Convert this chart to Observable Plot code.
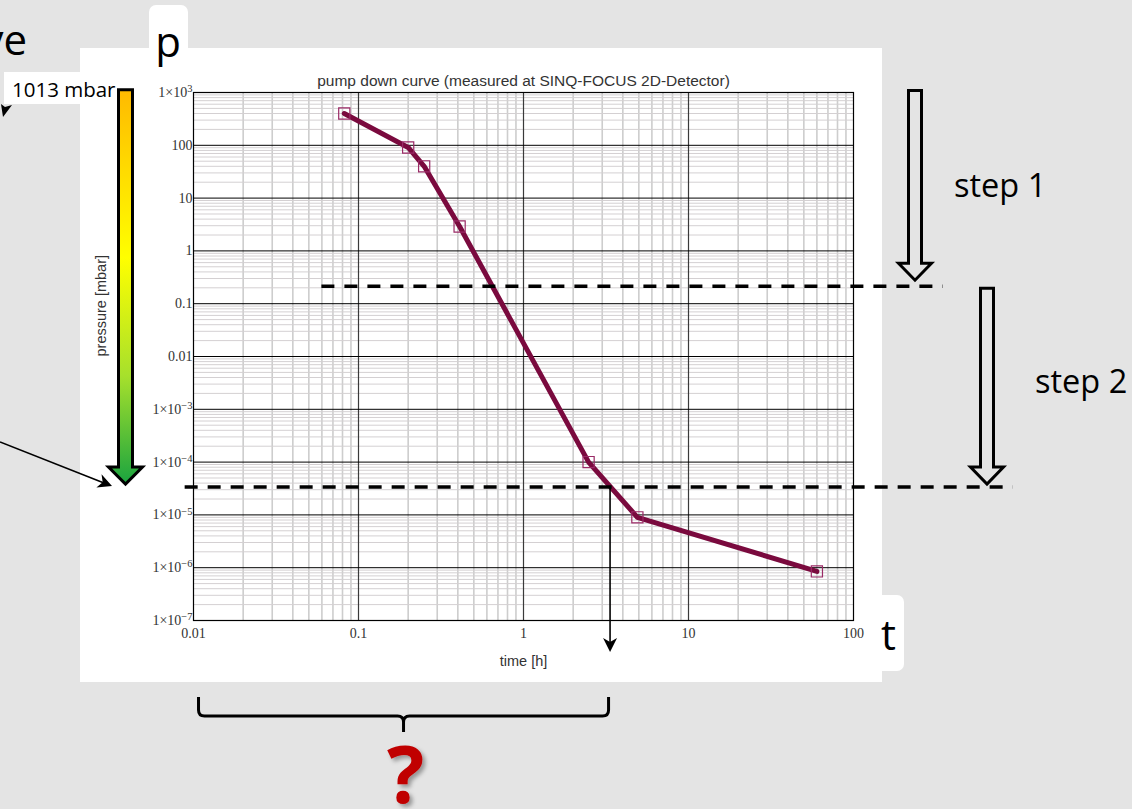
<!DOCTYPE html>
<html><head><meta charset="utf-8">
<script src="https://cdn.jsdelivr.net/npm/d3@7"></script>
<script src="https://cdn.jsdelivr.net/npm/@observablehq/plot@0.6"></script>
<style>
html,body{margin:0;padding:0;background:#e4e4e4;}
#chart{position:relative;width:1132px;height:809px;overflow:hidden;}
</style></head><body><div id="chart"></div>
<script>
// ---- data ----
const timeH = [0.082, 0.2, 0.25, 0.41, 2.48, 4.9, 60];
const pressureMbar = [400, 91, 40, 2.9, 1.0e-4, 9e-6, 8.5e-7];
const xTicks = [0.01, 0.1, 1, 10, 100];
const xTickLabels = ["0.01", "0.1", "1", "10", "100"];
const yTicks = [1e3, 100, 10, 1, 0.1, 0.01, 1e-3, 1e-4, 1e-5, 1e-6, 1e-7];
const yTickLabels = ["1×10^3", "100", "10", "1", "0.1", "0.01", "1×10^−3", "1×10^−4", "1×10^−5", "1×10^−6", "1×10^−7"];
const titleText = "pump down curve (measured at SINQ-FOCUS 2D-Detector)";
const xLabel = "time [h]";
const yLabel = "pressure [mbar]";
const atmosphereMbar = 1013;
const step1Pressure = 0.21;     // end of step 1 (dashed line)
const step2Pressure = 3.3e-5;   // end of step 2 (dashed line)
const step2Time = 3.37;         // time where the curve crosses step 2 level
const step1Span = [0.06, 350];  // time extent of the step-1 dashed line
const step2Span = [0.0089, 930];// time extent of the step-2 dashed line
const braceSpan = [0.0108, 3.3];
const labels = {atm: "1013 mbar", p: "p", t: "t", ve: "ve", s1: "step 1", s2: "step 2", q: "?"};

// minor grid ticks (2..9 per decade)
const xMinor = [], yMinor = [];
for (let e = -2; e < 2; e++) for (let m = 2; m <= 9; m++) xMinor.push(m * Math.pow(10, e));
for (let e = -7; e < 3; e++) for (let m = 2; m <= 9; m++) yMinor.push(m * Math.pow(10, e));

const points = timeH.map((t, i) => ({t, p: pressureMbar[i]}));
const xTickData = xTicks.map((v, i) => ({v, label: xTickLabels[i]}));
const yTickData = yTicks.map((v, i) => ({v, label: yTickLabels[i]}));

const serif = "'Liberation Serif', 'DejaVu Serif', serif";
const sans = "'Liberation Sans', Arial, sans-serif";
const slide = "'Open Sans', 'Noto Sans', sans-serif";

const W = 1132, H = 809;
const plot = Plot.plot({
  width: W, height: H,
  marginLeft: 193, marginRight: 279, marginTop: 92, marginBottom: 189,
  style: {background: "transparent", overflow: "visible"},
  x: {type: "log", domain: [0.01, 100], axis: null},
  y: {type: "log", domain: [1e-7, 1e3], axis: null},
  marks: [
    Plot.ruleX(xMinor, {stroke: "#cdcdcd", strokeWidth: 1.6}),
    Plot.ruleY(yMinor, {stroke: "#d4d0d2", strokeWidth: 1}),
    Plot.ruleX([0.1, 1, 10], {stroke: "#3a3a3a", strokeWidth: 1.2}),
    Plot.ruleY(yTicks, {stroke: "#000", strokeWidth: 1}),
    Plot.frame({stroke: "#000", strokeWidth: 1.2}),
    Plot.line(points, {x: "t", y: "p", stroke: "#7a0a3e", strokeWidth: 5, strokeLinejoin: "round"}),
    Plot.dot(points, {x: "t", y: "p", symbol: "square", r: 6.3, stroke: "#9a2a66", fill: "none", strokeWidth: 1.2}),
    Plot.text(yTickData, {y: "v", text: "label", frameAnchor: "left", textAnchor: "end", dx: -1, fontFamily: serif, fontSize: 14, fill: "#333"}),
    Plot.text(xTickData, {x: "v", text: "label", frameAnchor: "bottom", lineAnchor: "top", dy: 8, fontFamily: serif, fontSize: 14, fill: "#333"}),
    Plot.text([titleText], {text: d => d, frameAnchor: "top", dy: -18, fontFamily: sans, fontSize: 15.5, fill: "#333"}),
    Plot.text([xLabel], {text: d => d, frameAnchor: "bottom", dy: 45, fontFamily: sans, fontSize: 14.5, fill: "#333"}),
    Plot.text([yLabel], {text: d => d, frameAnchor: "left", dx: -92, rotate: -90, fontFamily: sans, fontSize: 14.5, fill: "#333"})
  ]
});
document.getElementById("chart").appendChild(plot);

// turn "1×10^e" tick labels into base + superscript
d3.select(plot).selectAll("text").each(function () {
  const s = this.textContent;
  const k = s.indexOf("^");
  if (k < 0) return;
  const base = s.slice(0, k), exp = s.slice(k + 1);
  const t = d3.select(this);
  t.text(null);
  t.append("tspan").text(base);
  t.append("tspan").attr("dy", "-0.45em").attr("font-size", 10.5).text(exp);
});

let sx, sy;
try { sx = plot.scale("x").apply; sy = plot.scale("y").apply; } catch (e) {}
if (!sx) { sx = d3.scaleLog([0.01, 100], [193, 853]); sy = d3.scaleLog([1e-7, 1e3], [620, 92]); }

const svg = d3.select(plot);
// background slide panels (behind everything)
const bg = svg.insert("g", ":first-child");
bg.append("rect").attr("x", 80).attr("y", 48).attr("width", 802).attr("height", 634).attr("fill", "#fff");
bg.append("rect").attr("x", 149).attr("y", 5).attr("width", 39).attr("height", 60).attr("rx", 7).attr("fill", "#fff");
bg.append("rect").attr("x", 862).attr("y", 595).attr("width", 42).attr("height", 76).attr("rx", 7).attr("fill", "#fff");
bg.append("rect").attr("x", 4).attr("y", 72).attr("width", 116).attr("height", 32).attr("fill", "#fff");

const defs = svg.append("defs");
const grad = defs.append("linearGradient").attr("id", "pgrad").attr("gradientUnits", "userSpaceOnUse")
  .attr("x1", 0).attr("x2", 0).attr("y1", sy(atmosphereMbar)).attr("y2", sy(step2Pressure));
[[0, "#ffbb00"], [0.42, "#ffff00"], [0.72, "#a6e02c"], [1, "#16a240"]].forEach(([o, c]) =>
  grad.append("stop").attr("offset", o).attr("stop-color", c));
const flt = defs.append("filter").attr("id", "shadow").attr("x", "-30%").attr("y", "-30%").attr("width", "160%").attr("height", "160%");
flt.append("feDropShadow").attr("dx", 3).attr("dy", 3).attr("stdDeviation", 2).attr("flood-color", "#000").attr("flood-opacity", 0.35);

const ov = svg.append("g");
// dashed level lines
const y1 = sy(step1Pressure), y2 = sy(step2Pressure);
ov.append("line").attr("x1", sx(step1Span[0])).attr("x2", sx(step1Span[1])).attr("y1", y1).attr("y2", y1)
  .attr("stroke", "#000").attr("stroke-width", 3.5).attr("stroke-dasharray", "13,10");
ov.append("line").attr("x1", sx(step2Span[0])).attr("x2", sx(step2Span[1])).attr("y1", y2).attr("y2", y2)
  .attr("stroke", "#000").attr("stroke-width", 3.5).attr("stroke-dasharray", "13,10");

// gradient pressure arrow
const ya = sy(atmosphereMbar) - 2, yt = y2 - 3, cx = 125.5;
ov.append("path").attr("d", `M${cx-7},${ya} L${cx+7},${ya} L${cx+7},${yt-17} L${cx+17},${yt-17} L${cx},${yt} L${cx-17},${yt-17} L${cx-7},${yt-17} Z`)
  .attr("fill", "url(#pgrad)").attr("stroke", "#000").attr("stroke-width", 3);

// open step arrows
function openArrow(xc, top, tip) {
  ov.append("path").attr("d", `M${xc-6.5},${top} L${xc+6.5},${top} L${xc+6.5},${tip-17} L${xc+16.5},${tip-17} L${xc},${tip} L${xc-16.5},${tip-17} L${xc-6.5},${tip-17} Z`)
    .attr("fill", "none").attr("stroke", "#000").attr("stroke-width", 3);
}
openArrow(915, 90.5, y1 - 6);
openArrow(987, y1 + 2, y2 - 3);

// thin arrows
function arrowHead(x, y, ang) {
  const L = 14, Wd = 7, back = 10;
  const ux = Math.cos(ang), uy = Math.sin(ang), px = -uy, py = ux;
  const bx = x - ux * L, by = y - uy * L, ix = x - ux * back, iy = y - uy * back;
  ov.append("path").attr("d", `M${x},${y} L${bx + px*Wd},${by + py*Wd} L${ix},${iy} L${bx - px*Wd},${by - py*Wd} Z`).attr("fill", "#000");
}
const xs = sx(step2Time);
ov.append("line").attr("x1", xs).attr("x2", xs).attr("y1", y2).attr("y2", 645).attr("stroke", "#000").attr("stroke-width", 1.6);
arrowHead(xs, 652, Math.PI / 2);
const ang = Math.atan2(486 - 442, 112 - 0);
ov.append("line").attr("x1", 0).attr("y1", 442).attr("x2", 104).attr("y2", 483).attr("stroke", "#000").attr("stroke-width", 1.6);
arrowHead(112, 486, ang);
ov.append("path").attr("d", "M3,117 L1,104 L5,107 L12,105 Z").attr("fill", "#000");

// brace
const bl = sx(braceSpan[0]), br = sx(braceSpan[1]), bm = (bl + br) / 2;
ov.append("path").attr("d", `M${bl},697 L${bl},710 Q${bl},716 ${bl+6},716 L${bm-6},716 Q${bm},716 ${bm},722 L${bm},732 M${bm},722 Q${bm},716 ${bm+6},716 L${br-6},716 Q${br},716 ${br},710 L${br},697`)
  .attr("fill", "none").attr("stroke", "#000").attr("stroke-width", 3);

// slide texts
function txt(s, x, y, size, anchor, extra) {
  const t = ov.append("text").attr("x", x).attr("y", y).attr("font-family", slide).attr("font-size", size)
    .attr("text-anchor", anchor).attr("fill", "#000").text(s);
  if (extra) extra(t);
  return t;
}
txt(labels.ve, 27, 55, 42, "end");
txt(labels.p, 168, 57, 42, "middle");
txt(labels.t, 881, 650, 42, "start");
txt(labels.s1, 954, 197, 32.5, "start");
txt(labels.s2, 1035, 393, 32.5, "start");
txt(labels.atm, 12, 97, 20.5, "start");
txt(labels.q, bm + 2, 803, 78, "middle", t => t.attr("font-weight", 700).attr("fill", "#c00000").attr("filter", "url(#shadow)"));
</script></body></html>
